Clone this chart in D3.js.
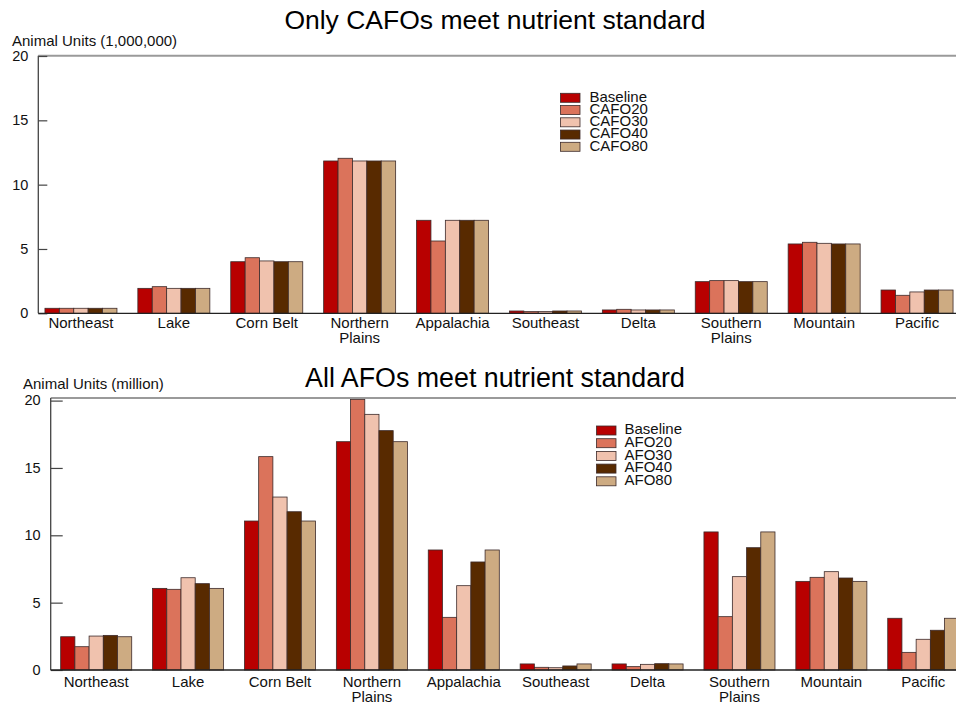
<!DOCTYPE html>
<html>
<head>
<meta charset="utf-8">
<script src="https://cdn.jsdelivr.net/npm/d3@7"></script>
<style>
  html, body { margin: 0; padding: 0; background: #fff; }
  svg { display: block; font-family: "Liberation Sans", Arial, Helvetica, sans-serif; }
</style>
</head>
<body>
<svg id="chart" width="956" height="704"></svg>
<script>
// ---------- data ----------
const regions = ["Northeast", "Lake", "Corn Belt", "Northern Plains", "Appalachia",
                 "Southeast", "Delta", "Southern Plains", "Mountain", "Pacific"];
const yTicks = [0, 5, 10, 15, 20];

// Panel 1: Only CAFOs meet nutrient standard (Animal Units, 1,000,000)
const cafoSeries = ["Baseline", "CAFO20", "CAFO30", "CAFO40", "CAFO80"];
const cafoBaseline = [0.39, 1.94, 4.01, 11.84, 7.23, 0.18, 0.26, 2.46, 5.39, 1.81];
const cafo20       = [0.39, 2.07, 4.32, 12.05, 5.62, 0.13, 0.31, 2.54, 5.52, 1.40];
const cafo30       = [0.39, 1.94, 4.07, 11.84, 7.23, 0.13, 0.26, 2.54, 5.44, 1.66];
const cafo40       = [0.39, 1.94, 4.01, 11.84, 7.23, 0.18, 0.26, 2.46, 5.39, 1.81];
const cafo80       = [0.39, 1.94, 4.01, 11.84, 7.23, 0.18, 0.26, 2.46, 5.39, 1.81];

// Panel 2: All AFOs meet nutrient standard (Animal Units, million)
const afoSeries = ["Baseline", "AFO20", "AFO30", "AFO40", "AFO80"];
const afoBaseline = [2.47, 6.06, 11.06, 16.95, 8.91, 0.45, 0.45, 10.25, 6.58, 3.84];
const afo20       = [1.73, 5.99, 15.84, 20.09, 3.91, 0.20, 0.25, 3.96, 6.88, 1.31];
const afo30       = [2.52, 6.85, 12.84, 18.98, 6.26, 0.17, 0.42, 6.93, 7.30, 2.28];
const afo40       = [2.57, 6.41, 11.75, 17.77, 8.02, 0.30, 0.47, 9.08, 6.83, 2.95];
const afo80       = [2.47, 6.06, 11.06, 16.95, 8.91, 0.45, 0.45, 10.25, 6.58, 3.84];

const seriesColors = ["#b80000", "#db735b", "#f0c2ae", "#582a00", "#cdab82"];

// ---------- drawing ----------
const W = 956, H = 704;
const svg = d3.select("#chart");

function drawPanel(cfg) {
  const g = svg.append("g");
  const x = d3.scaleBand().domain(regions).range(cfg.xRange)
    .paddingInner(cfg.padInner).paddingOuter(cfg.padInner / 2);
  const x1 = d3.scaleBand().domain(cfg.series).range([0, x.bandwidth()]);
  const y = d3.scaleLinear().domain([0, 20]).range(cfg.yRange);
  const color = d3.scaleOrdinal().domain(cfg.series).range(seriesColors);
  const base = cfg.yRange[0];

  // title
  g.append("text").attr("x", 495).attr("y", cfg.titleY)
    .attr("text-anchor", "middle").attr("font-size", cfg.titleSize).attr("fill", "#000")
    .text(cfg.title);

  // y axis title
  g.append("text").attr("x", cfg.yLabelX).attr("y", cfg.yLabelY)
    .attr("font-size", 15).attr("fill", "#111").text(cfg.yLabel);

  // top frame line
  g.append("line").attr("x1", cfg.axisX).attr("x2", W)
    .attr("y1", cfg.frameTop).attr("y2", cfg.frameTop)
    .attr("stroke", "#9a9a9a").attr("stroke-width", 2);

  // bars
  const rows = cfg.series.map((s, i) => ({ s, vals: cfg.values[i] }));
  rows.forEach(row => {
    g.append("g").selectAll("rect").data(regions.map((r, j) => ({ r, v: row.vals[j] })))
      .join("rect")
      .attr("x", d => x(d.r) + x1(row.s))
      .attr("y", d => y(d.v))
      .attr("width", x1.bandwidth())
      .attr("height", d => base - y(d.v))
      .attr("fill", color(row.s))
      .attr("stroke", "#3c2a2a").attr("stroke-width", 0.8);
  });

  // y axis ticks (inward)
  const ya = g.append("g").attr("transform", `translate(${cfg.axisX},0)`)
    .call(d3.axisLeft(y).tickValues(yTicks).tickSize(-cfg.tickLen).tickPadding(10));
  ya.select(".domain").remove();
  ya.selectAll(".tick line").attr("stroke", "#444").attr("stroke-width", 1.2);
  ya.selectAll(".tick text").attr("font-size", 14.5).attr("fill", "#111")
    .attr("font-family", "Liberation Sans, Arial, sans-serif").attr("dy", "0.3em");

  // left axis line and baseline
  g.append("line").attr("x1", cfg.axisX).attr("x2", cfg.axisX)
    .attr("y1", cfg.frameTop).attr("y2", base)
    .attr("stroke", "#444").attr("stroke-width", 1.3);
  g.append("line").attr("x1", cfg.axisX).attr("x2", W)
    .attr("y1", base).attr("y2", base)
    .attr("stroke", "#222").attr("stroke-width", 1.3);

  // x axis category labels
  const xa = g.append("g").attr("transform", `translate(0,${base})`)
    .call(d3.axisBottom(x).tickSize(0).tickPadding(0));
  xa.select(".domain").remove();
  xa.selectAll(".tick text").each(function (d) {
    const t = d3.select(this);
    t.text(null).attr("y", 0).attr("dy", null)
      .attr("font-size", 15).attr("fill", "#111")
      .attr("font-family", "Liberation Sans, Arial, sans-serif");
    const parts = d.split(" ");
    const lines = (parts.length === 2 && parts[1] === "Plains") ? parts : [d];
    lines.forEach((ln, k) => {
      t.append("tspan").attr("x", 0).attr("y", cfg.catDy + k * 14.4).text(ln);
    });
  });

  // legend
  const lg = g.append("g");
  cfg.series.forEach((s, i) => {
    const yy = cfg.legend.y + i * cfg.legend.step;
    lg.append("rect").attr("x", cfg.legend.x).attr("y", yy)
      .attr("width", 19.5).attr("height", 9)
      .attr("fill", color(s)).attr("stroke", "#3c2a2a").attr("stroke-width", 0.8);
    lg.append("text").attr("x", cfg.legend.tx).attr("y", yy + 8.3)
      .attr("font-size", 15).attr("fill", "#111").text(s);
  });
}

drawPanel({
  title: "Only CAFOs meet nutrient standard", titleY: 28.5, titleSize: 26.5,
  yLabel: "Animal Units (1,000,000)", yLabelX: 12, yLabelY: 45.5,
  axisX: 38.3, frameTop: 55.7, yRange: [313.3, 56],
  xRange: [34.5, 963.5], padInner: 0.225, tickLen: 9, catDy: 15,
  series: cafoSeries, values: [cafoBaseline, cafo20, cafo30, cafo40, cafo80],
  legend: { x: 560.5, y: 93.3, step: 12.25, tx: 589.5 }
});

drawPanel({
  title: "All AFOs meet nutrient standard", titleY: 386.5, titleSize: 26.8,
  yLabel: "Animal Units (million)", yLabelX: 23, yLabelY: 389,
  axisX: 50.7, frameTop: 398, yRange: [670, 400.6],
  xRange: [50.25, 969.2], padInner: 0.227, tickLen: 12, catDy: 17.3,
  series: afoSeries, values: [afoBaseline, afo20, afo30, afo40, afo80],
  legend: { x: 596.5, y: 426, step: 12.7, tx: 624.5 }
});
</script>
</body>
</html>
